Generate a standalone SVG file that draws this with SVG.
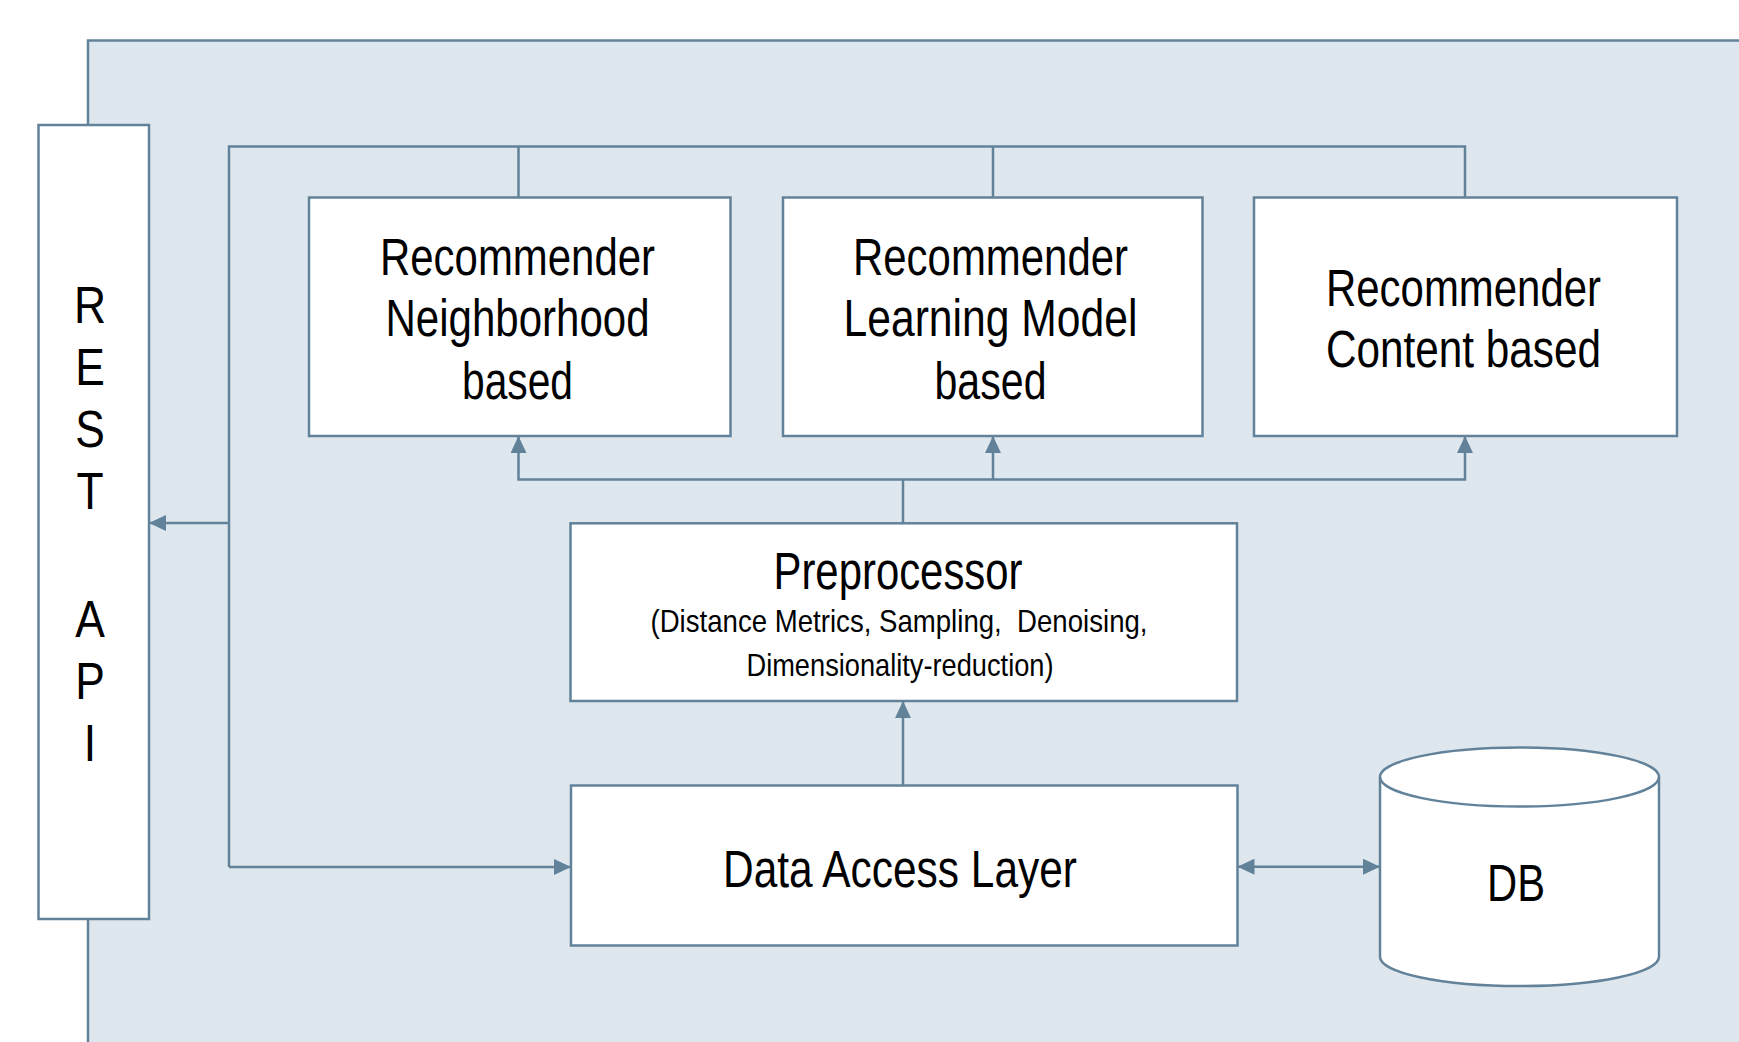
<svg xmlns="http://www.w3.org/2000/svg" width="1739" height="1042" viewBox="0 0 1739 1042">
<style>
.box{fill:#ffffff;stroke:#62829A;stroke-width:2.5}
.ln{fill:none;stroke:#62829A;stroke-width:2.5}
.t{font-family:"Liberation Sans",Arial,sans-serif;font-size:51px;fill:#000;text-anchor:middle}
.s{font-family:"Liberation Sans",Arial,sans-serif;font-size:32px;fill:#000;text-anchor:middle}
</style>
<defs>
<marker id="ah" markerUnits="userSpaceOnUse" markerWidth="17" markerHeight="16" viewBox="0 0 17 16" refX="17" refY="8" orient="auto-start-reverse">
<path d="M0,0 L17,8 L0,16 z" fill="#62829A"/>
</marker>
</defs>
<rect id="panel" x="88" y="40.5" width="1700" height="1100" fill="#DFE7EE" stroke="#62829A" stroke-width="2.5"/>
<g id="connectors">
<path class="ln" d="M229,867 V146.5 H1465 V197.7"/>
<path class="ln" d="M518.5,146.5 V197.5"/>
<path class="ln" d="M993,146.5 V197.5"/>
<path class="ln" d="M229,867 H571" marker-end="url(#ah)"/>
<path class="ln" d="M229,523 H149" stroke-width="4" marker-end="url(#ah)"/>
<path class="ln" d="M903,523 V479.5"/>
<path class="ln" d="M903,479.5 H518.5 V436" marker-end="url(#ah)"/>
<path class="ln" d="M903,479.5 H1465 V436" marker-end="url(#ah)"/>
<path class="ln" d="M993,479.5 V436" marker-end="url(#ah)"/>
<path class="ln" d="M903,785.5 V701" marker-end="url(#ah)"/>
<path class="ln" d="M1237.5,866.7 H1380" marker-start="url(#ah)" marker-end="url(#ah)"/>
</g>
<g id="rest-api">
<rect class="box" x="38.5" y="125" width="110.5" height="794"/>
<g transform="translate(90,0) scale(0.87,1) translate(-90,0)">
<text class="t" x="90" y="323">R</text>
<text class="t" x="90" y="385">E</text>
<text class="t" x="90" y="447">S</text>
<text class="t" x="90" y="509">T</text>
<text class="t" x="90" y="637">A</text>
<text class="t" x="90" y="699">P</text>
<text class="t" x="90" y="761">I</text>
</g>
</g>
<g id="rec-neighborhood">
<rect class="box" x="309" y="197.5" width="421.5" height="238.5"/>
<text class="t" x="517.5" y="275" textLength="275" lengthAdjust="spacingAndGlyphs">Recommender</text>
<text class="t" x="517.5" y="336" textLength="264" lengthAdjust="spacingAndGlyphs">Neighborhood</text>
<text class="t" x="517.5" y="399" textLength="111" lengthAdjust="spacingAndGlyphs">based</text>
</g>
<g id="rec-learning">
<rect class="box" x="783" y="197.5" width="419.5" height="238.5"/>
<text class="t" x="990.5" y="275" textLength="275" lengthAdjust="spacingAndGlyphs">Recommender</text>
<text class="t" x="990.5" y="336" textLength="294" lengthAdjust="spacingAndGlyphs">Learning Model</text>
<text class="t" x="990.5" y="399" textLength="112" lengthAdjust="spacingAndGlyphs">based</text>
</g>
<g id="rec-content">
<rect class="box" x="1254" y="197.5" width="423" height="238.5"/>
<text class="t" x="1463.5" y="306" textLength="275" lengthAdjust="spacingAndGlyphs">Recommender</text>
<text class="t" x="1463.5" y="367" textLength="275" lengthAdjust="spacingAndGlyphs">Content based</text>
</g>
<g id="preprocessor">
<rect class="box" x="570.5" y="523.3" width="666.5" height="177.7"/>
<text class="t" x="898" y="589" textLength="249" lengthAdjust="spacingAndGlyphs">Preprocessor</text>
<text class="s" x="899" y="632" textLength="497" lengthAdjust="spacingAndGlyphs">(Distance Metrics, Sampling,&#160; Denoising,</text>
<text class="s" x="900" y="676" textLength="307" lengthAdjust="spacingAndGlyphs">Dimensionality-reduction)</text>
</g>
<g id="data-access-layer">
<rect class="box" x="571" y="785.5" width="666.5" height="160"/>
<text class="t" x="900" y="887" textLength="354" lengthAdjust="spacingAndGlyphs">Data Access Layer</text>
</g>
<g id="db">
<path class="box" d="M1380,777 A139.5,29.5 0 0 1 1659,777 V956.7 A139.5,29.3 0 0 1 1380,956.7 Z"/>
<path class="ln" d="M1380,777 A139.5,29.5 0 0 0 1659,777"/>
<text class="t" x="1516" y="901" textLength="58" lengthAdjust="spacingAndGlyphs">DB</text>
</g>
</svg>
